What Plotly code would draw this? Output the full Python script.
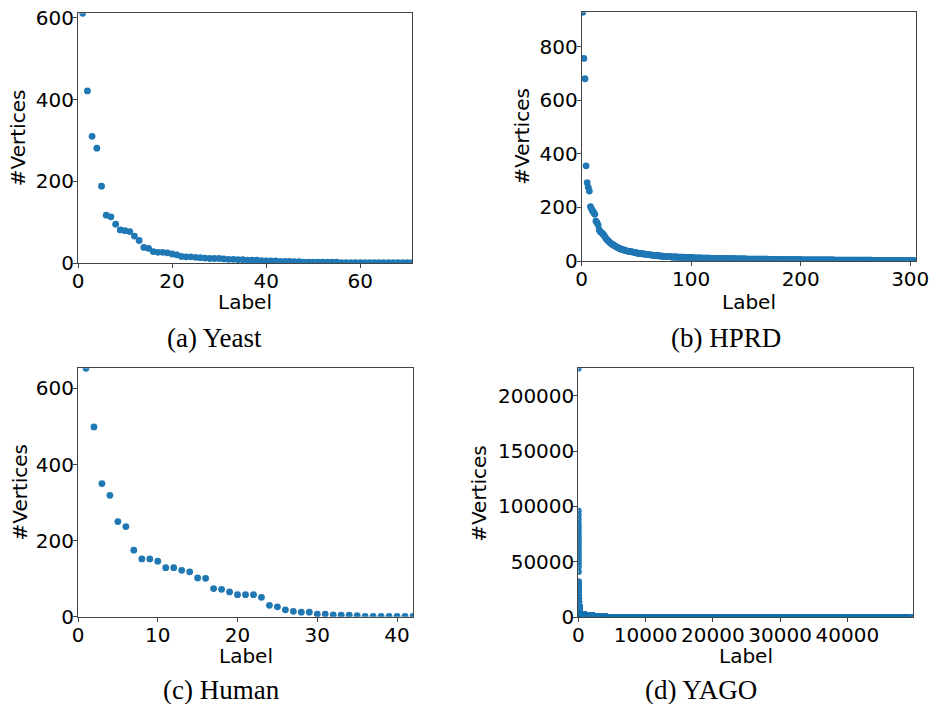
import plotly.graph_objects as go

# ---------------- data ----------------
yeast_counts = [611, 421, 310, 281, 188, 117, 113, 95, 81, 79,
                77, 66, 55, 38, 36, 28, 26, 26, 25, 22,
                20, 16, 15, 15, 14, 13, 12, 11, 11, 11,
                10, 9, 9, 8, 8, 7, 7, 7, 6, 5,
                5, 5, 4, 4, 4, 3, 3, 2, 2, 2,
                2, 2, 2, 2, 2, 1, 1, 1, 1, 1,
                1, 1, 1, 1, 1, 1, 1, 1, 1, 1, 1]

hprd_head = [928, 756, 680, 355, 292, 275, 261, 203, 194, 187,
             180, 174, 149, 143, 134, 116, 109, 106, 103, 97,
             92, 85, 80, 76, 72, 68, 65, 62, 60, 57,
             54, 52, 50, 48, 46, 44, 43, 42, 40, 39,
             38, 37, 36, 35, 35, 34, 33, 32, 31, 30]
# (value, number of labels) runs for the dense tail
hprd_tail_runs = [(29, 2), (28, 2), (27, 2), (26, 2), (25, 2), (24, 2), (22, 3),
                  (21, 4), (19, 4), (17, 4), (16, 4),
                  (15, 6), (14, 6), (13, 8), (12, 8), (11, 8),
                  (10, 12), (9, 11), (8, 10),
                  (7, 20), (6, 15), (5, 15),
                  (4, 30), (3, 35), (2, 25), (1, 15)]

human_counts = [653, 499, 350, 319, 250, 237, 175, 152, 152, 146,
                129, 129, 122, 118, 102, 101, 74, 72, 65, 58,
                58, 58, 51, 30, 26, 18, 14, 12, 12, 7,
                7, 5, 4, 4, 3, 1, 1, 1, 1, 1, 1, 1]

yago_head = [224700, 96000, 92300, 88400, 84800, 81800, 78800, 75800, 72800,
             69800, 66800, 63800, 60800, 57800, 54800, 51800, 48800, 45800, 41200]
yago_tail_runs = [(32000, 3), (29000, 4), (26000, 5), (23000, 6), (20000, 8),
                  (17000, 10), (14000, 12), (11000, 15), (9000, 20), (7500, 25),
                  (6000, 35), (5000, 45), (4000, 60),
                  (2500, 600), (1800, 1200),
                  (400, 2000), (5, 45633)]

titles = ["(a) Yeast", "(b) HPRD", "(c) Human", "(d) YAGO"]
x_dticks = [20, 100, 10, 10000]
y_dticks = [200, 200, 200, 50000]


def expand(head, runs):
    vals = list(head)
    for v, c in runs:
        vals.extend([v] * c)
    return vals


series = [yeast_counts,
          expand(hprd_head, hprd_tail_runs),
          human_counts,
          expand(yago_head, yago_tail_runs)]

# ---------------- layout (pixel geometry) ----------------
W, H = 931, 704
# plot boxes: left, right, top, bottom (px)
boxes = [(78, 412, 13.3, 263),
         (581.7, 915.7, 12.3, 261),
         (78, 413, 368.3, 616.7),
         (578.3, 912.7, 368.3, 617.3)]
ylab_x = [18, 522, 19, 479]
xlab_y = [302, 302, 656, 656]
cap_pos = [(214.5, 338), (726, 338), (221, 690), (701, 690)]

BLUE = "#1f77b4"
AX = "#444444"
TICKFONT = dict(family="DejaVu Sans", size=20, color="black")

fig = go.Figure()
for i, vals in enumerate(series):
    n = len(vals)
    xs = list(range(1, n + 1))
    suffix = "" if i == 0 else str(i + 1)
    fig.add_trace(go.Scatter(
        x=xs, y=vals, mode="markers",
        marker=dict(color=BLUE, size=6.8, line=dict(width=0)),
        xaxis="x" + suffix, yaxis="y" + suffix, showlegend=False,
        hoverinfo="skip"))
    l, r, t, b = boxes[i]
    common = dict(showgrid=False, zeroline=False, showline=True, mirror=True,
                  linecolor=AX, linewidth=1, ticks="outside", ticklen=4,
                  tickwidth=1, tickcolor=AX, tickfont=TICKFONT, tickformat="d",
                  automargin=False)
    fig.layout["xaxis" + suffix] = dict(
        domain=[l / W, r / W], range=[0, n], tick0=0, dtick=x_dticks[i],
        anchor="y" + suffix, ticklabelstandoff=-4, **common)
    fig.layout["yaxis" + suffix] = dict(
        domain=[1 - b / H, 1 - t / H], range=[0, max(vals)], tick0=0,
        dtick=y_dticks[i], anchor="x" + suffix, ticklabelstandoff=-5, **common)

    fig.add_annotation(x=(l + r) / 2 / W, y=1 - xlab_y[i] / H, xref="paper", yref="paper",
                       text="Label", showarrow=False, xanchor="center", yanchor="middle",
                       font=dict(family="DejaVu Sans", size=20, color="black"))
    fig.add_annotation(x=ylab_x[i] / W, y=1 - (t + b) / 2 / H, xref="paper", yref="paper",
                       text="#Vertices", textangle=-90, showarrow=False,
                       xanchor="center", yanchor="middle",
                       font=dict(family="DejaVu Sans", size=20, color="black"))
    cx, cy = cap_pos[i]
    fig.add_annotation(x=cx / W, y=1 - cy / H, xref="paper", yref="paper",
                       text=titles[i], showarrow=False, xanchor="center", yanchor="middle",
                       font=dict(family="Liberation Serif", size=27, color="black"))

fig.update_layout(width=W, height=H, autosize=False,
                  margin=dict(l=0, r=0, t=0, b=0, autoexpand=False),
                  paper_bgcolor="white", plot_bgcolor="white")

fig.write_html("out.html", config={"displayModeBar": False},
               post_script="document.body.style.margin='0';document.body.style.overflow='hidden';")
